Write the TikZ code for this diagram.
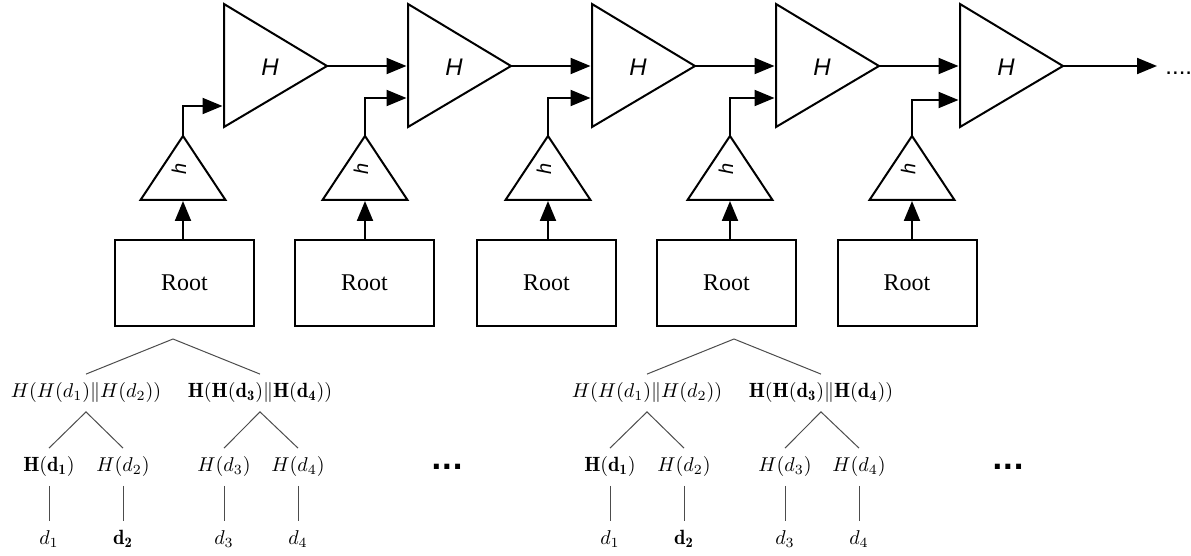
\documentclass[tikz,border=0pt]{standalone}
\usepackage{amsmath,bm}
\usepackage{fontspec}
\newfontfamily\sansH{Liberation Sans}
\newfontfamily\serifR{Liberation Serif}
\newfontfamily\dotsF{DejaVu Sans}
\usetikzlibrary{arrows.meta}

\begin{document}
\begin{tikzpicture}[x=0.5pt,y=-0.5pt,
  blk/.style={line width=1pt,line join=miter},
  arr/.style={blk,-{Triangle[length=10pt,width=8pt]}},
  rootbox/.style={draw,line width=1pt,minimum width=69.5pt,minimum height=43pt,inner sep=0pt,font=\serifR\fontsize{12}{14}\selectfont},
  hash/.style={inner sep=0pt,font=\sansH\itshape\fontsize{12}{14}\selectfont},
  lab/.style={inner sep=4pt,text height=7.5pt,text depth=3pt,font=\fontsize{10.3}{12}\selectfont},
  edge/.style={line width=0.5pt,black!70}]
\useasboundingbox (0,0) rectangle (1191,556);
\foreach \i/\Hx/\hx/\rx/\ay in {1/224/183/184.5/106,2/408/365/364.5/98,3/592/548/546.5/98,4/776/730/726.5/98,5/960/912/907/100}{
  \draw[blk] (\Hx,4) -- (\Hx+103,66) -- (\Hx,127) -- cycle;
  \coordinate (Hout\i) at (\Hx+103,66);
  \coordinate (Hin\i) at (\Hx-1.5,66);
  \coordinate (Hlow\i) at (\Hx-1.5,\ay);
  \node[hash] (H\i) at (\Hx+46,67) {H};
  \draw[blk] (\hx,136) -- (\hx+42.5,200) -- (\hx-42.5,200) -- cycle;
  \coordinate (htop\i) at (\hx,136);
  \coordinate (hbase\i) at (\hx,201);
  \node[hash,rotate=90,font=\sansH\itshape\fontsize{10}{12}\selectfont] (h\i) at (\hx-4,169) {h};
  \node[rootbox] (R\i) at (\rx,283) {Root};
  \draw[arr] (hbase\i |- R\i.north) -- (hbase\i);
  \draw[arr] (htop\i) |- (Hlow\i);
}
\foreach \i/\j in {1/2,2/3,3/4,4/5} \draw[arr] (Hout\i) -- (Hin\j);
\coordinate (end) at (1157,66);
\draw[arr] (Hout5) -- (end);
\node[anchor=base west,inner sep=0pt,font=\sansH\fontsize{12}{14}\selectfont] (more) at (1165,75) {....};
\foreach \tx/\t in {0/a,561/b}{
  \coordinate (\t top) at (\tx+173,339);
  \node[lab] (\t12) at (\tx+86,393) {$H(H(d_1)\|H(d_2))$};
  \node[lab] (\t34) at (\tx+260,393) {$\mathbf{H}(\mathbf{H}(\mathbf{d_3})\|\mathbf{H}(\mathbf{d_4}))$};
  \node[lab] (\t1) at (\tx+49,467) {$\mathbf{H}(\mathbf{d_1})$};
  \node[lab] (\t2) at (\tx+123,467) {$H(d_2)$};
  \node[lab] (\t3) at (\tx+224,467) {$H(d_3)$};
  \node[lab] (\t4) at (\tx+298,467) {$H(d_4)$};
  \node[lab] (\t d1) at (\tx+49,540) {$d_1$};
  \node[lab] (\t d2) at (\tx+123,540) {$\mathbf{d_2}$};
  \node[lab] (\t d3) at (\tx+224,540) {$d_3$};
  \node[lab] (\t d4) at (\tx+298,540) {$d_4$};
  \draw[edge] (\t12.north) -- (\t top) -- (\t34.north);
  \draw[edge] (\t1.north) -- (\t12.south) -- (\t2.north);
  \draw[edge] (\t3.north) -- (\t34.south) -- (\t4.north);
  \foreach \k in {1,...,4} \draw[edge] (\t\k.south) -- (\t d\k.north);
  \node[anchor=base,inner sep=0pt,font=\dotsF\bfseries\fontsize{14}{16}\selectfont] (\t dots) at (\tx+447,469) {...};
}
\end{tikzpicture}
\end{document}
